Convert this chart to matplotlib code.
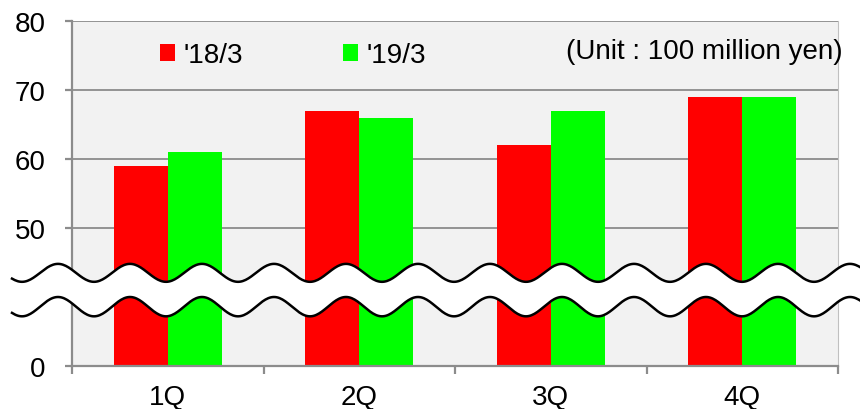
import matplotlib.pyplot as plt
import matplotlib.transforms as mtransforms
from matplotlib.patches import Patch, Polygon
import numpy as np

plt.rcParams['font.family'] = ['Liberation Sans', 'DejaVu Sans']

quarters = ['1Q', '2Q', '3Q', '4Q']
fy18 = [59, 67, 62, 69]
fy19 = [61, 66, 67, 69]
series_labels = ["'18/3", "'19/3"]
# axis is broken: the bottom of the plot (30) is labelled 0
y_ticks = [30, 50, 60, 70, 80]
y_tick_labels = ['0', '50', '60', '70', '80']
base = 30

red = '#ff0000'
green = '#00ff00'

fig = plt.figure(figsize=(8.6, 4.1), dpi=100)
ax = fig.add_axes([72 / 860, 43 / 410, 766 / 860, 345 / 410])
ax.set_facecolor('#f2f2f2')

x = np.arange(len(quarters))
w = 0.282
ax.bar(x - w / 2, [v - base for v in fy18], w, bottom=base, color=red, zorder=2)
ax.bar(x + w / 2, [v - base for v in fy19], w, bottom=base, color=green, zorder=2)

ax.set_xlim(-0.5, len(quarters) - 0.5)
ax.set_ylim(30, 80)
ax.set_yticks(y_ticks)
ax.set_yticklabels(y_tick_labels)
ax.set_xticks(x)
ax.set_xticklabels(quarters)
ax.set_xticks(np.arange(-0.5, len(quarters)), minor=True)

for y in [50, 60, 70, 80]:
    ax.axhline(y, color='#8c8c8c', lw=1.3, zorder=1)

ax.spines['top'].set_visible(False)
ax.spines['right'].set_color('#c0c0c0')
ax.spines['left'].set_color('#8c8c8c')
ax.spines['bottom'].set_color('#8c8c8c')
ax.spines['left'].set_linewidth(1.6)
ax.spines['bottom'].set_linewidth(1.6)

ax.tick_params(axis='y', length=5, width=1.6, color='#8c8c8c', pad=14, labelsize=20)
ax.tick_params(axis='x', which='major', length=0, pad=13, labelsize=20)
ax.tick_params(axis='x', which='minor', length=6, width=1.6, color='#8c8c8c')

# wavy break across the axis
blend = mtransforms.blended_transform_factory(fig.transFigure, ax.transData)
xs_px = np.linspace(12, 860, 600)
upper = 43.5 + 1.3 * np.cos(2 * np.pi * (xs_px - 58) / 72)
lower = 38.6 + 1.4 * np.cos(2 * np.pi * (xs_px - 58) / 72)
xs = xs_px / 860
poly = np.vstack([np.column_stack([xs, upper]), np.column_stack([xs[::-1], lower[::-1]])])
ax.add_patch(Polygon(poly, closed=True, facecolor='white', edgecolor='none',
                     transform=blend, clip_on=False, zorder=5))
ax.plot(xs, upper, color='black', lw=1.8, transform=blend, clip_on=False, zorder=6)
ax.plot(xs, lower, color='black', lw=1.8, transform=blend, clip_on=False, zorder=6)

handles = [Patch(facecolor=red), Patch(facecolor=green)]
fig.legend(handles, series_labels, loc='center left', bbox_to_anchor=(160 / 860, 1 - 56 / 410),
           ncol=2, frameon=False, fontsize=20, handlelength=0.55, handleheight=0.55,
           handletextpad=0.3, columnspacing=3.6, borderpad=0, borderaxespad=0)

fig.text(843 / 860, 1 - 52 / 410, '(Unit : 100 million yen)', ha='right', va='center', fontsize=20)

fig.savefig('out.png', dpi=100)
